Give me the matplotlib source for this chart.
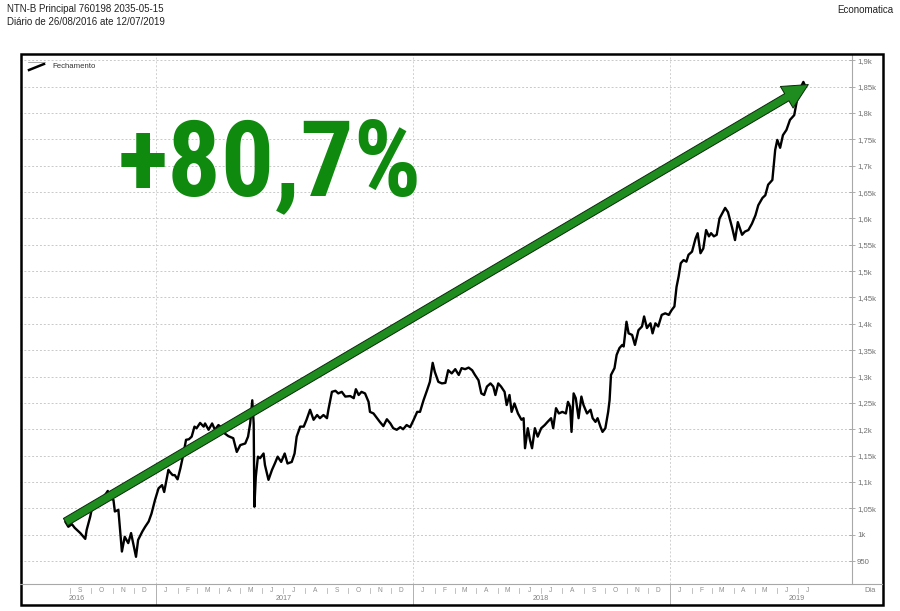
import numpy as np
import pandas as pd
import matplotlib
matplotlib.use("Agg")
import matplotlib.pyplot as plt
import matplotlib.dates as mdates
from matplotlib import font_manager
from matplotlib.transforms import blended_transform_factory
from matplotlib.patches import Rectangle
from matplotlib.lines import Line2D

# ---------------- data ----------------
title_line1 = "NTN-B Principal 760198 2035-05-15"
title_line2 = "Diário de 26/08/2016 ate 12/07/2019"
source_label = "Economatica"
series_name = "Fechamento"
headline = "+80,7%"
x_axis_label = "Dia"
start_date = "2016-08-26"
end_date = "2019-07-12"

day_offsets = [0, 4, 9, 13, 21, 28, 30, 35, 39, 44, 49, 56, 60, 63, 68, 70, 75, 80, 84, 89,
               93, 96, 100, 103, 109, 113, 118, 122, 127, 132, 137, 140, 146, 148, 152, 155,
               159, 163, 167, 171, 175, 179, 183, 186, 191, 196, 198, 203, 208, 212, 217, 222,
               226, 231, 238, 243, 248, 255, 259, 262, 265, 267, 268, 270, 273, 276, 281, 283,
               288, 293, 297, 301, 306, 311, 315, 321, 325, 328, 333, 338, 342, 347, 352, 357,
               361, 366, 371, 373, 378, 383, 387, 392, 397, 404, 409, 412, 416, 420, 425, 430,
               432, 437, 442, 446, 451, 456, 461, 465, 470, 475, 479, 484, 489, 494, 499, 503,
               508, 513, 517, 521, 524, 529, 534, 539, 543, 548, 553, 558, 562, 567, 572, 577,
               581, 586, 590, 594, 598, 603, 607, 610, 614, 618, 623, 626, 630, 633, 637, 642,
               647, 650, 652, 656, 659, 662, 666, 670, 675, 680, 684, 689, 692, 696, 700, 705,
               710, 713, 716, 718, 721, 724, 728, 732, 735, 740, 745, 748, 752, 755, 759, 762,
               766, 770, 772, 774, 779, 782, 786, 790, 792, 796, 799, 804, 808, 813, 818, 821,
               825, 830, 833, 837, 841, 846, 851, 856, 860, 864, 867, 870, 873, 877, 881, 884,
               889, 894, 897, 901, 905, 909, 913, 916, 920, 924, 928, 932, 936, 940, 946, 950,
               954, 960, 964, 969, 974, 979, 983, 989, 993, 997, 1003, 1007, 1010, 1014, 1018,
               1023, 1028, 1034, 1038, 1043, 1047, 1050]
closing = [1024, 1015, 1020, 1013, 1003, 992, 1009, 1034, 1060, 1062, 1056, 1075, 1083, 1069,
           1066, 1044, 1047, 968, 996, 984, 1003, 984, 958, 990, 1006, 1015, 1025, 1040, 1066,
           1088, 1094, 1081, 1123, 1119, 1113, 1113, 1105, 1126, 1151, 1180, 1181, 1186, 1205,
           1202, 1212, 1205, 1211, 1199, 1211, 1199, 1208, 1202, 1192, 1187, 1183, 1157, 1170,
           1173, 1186, 1211, 1255, 1211, 1053, 1110, 1148, 1145, 1154, 1132, 1104, 1123, 1135,
           1148, 1138, 1154, 1135, 1138, 1154, 1186, 1205, 1205, 1218, 1237, 1218, 1227, 1221,
           1227, 1221, 1237, 1271, 1273, 1268, 1271, 1262, 1263, 1259, 1276, 1265, 1271, 1268,
           1252, 1233, 1230, 1221, 1214, 1206, 1219, 1211, 1202, 1199, 1204, 1200, 1208, 1204,
           1218, 1233, 1233, 1255, 1274, 1290, 1326, 1309, 1290, 1287, 1288, 1312, 1306, 1314,
           1303, 1316, 1314, 1317, 1312, 1303, 1293, 1268, 1265, 1281, 1287, 1281, 1265, 1287,
           1281, 1271, 1246, 1265, 1233, 1249, 1230, 1218, 1221, 1164, 1202, 1180, 1164, 1202,
           1186, 1202, 1208, 1214, 1221, 1202, 1240, 1230, 1233, 1230, 1252, 1243, 1195, 1268,
           1259, 1221, 1262, 1246, 1230, 1237, 1221, 1214, 1221, 1205, 1195, 1202, 1233, 1255,
           1303, 1316, 1341, 1354, 1360, 1357, 1404, 1382, 1379, 1360, 1388, 1395, 1414, 1392,
           1401, 1382, 1401, 1395, 1417, 1420, 1417, 1426, 1433, 1470, 1490, 1515, 1521, 1518,
           1531, 1537, 1562, 1572, 1534, 1543, 1578, 1566, 1572, 1566, 1569, 1600, 1610, 1620,
           1612, 1582, 1559, 1593, 1569, 1575, 1578, 1590, 1606, 1625, 1639, 1644, 1664, 1673,
           1730, 1749, 1734, 1758, 1768, 1787, 1796, 1825, 1848, 1859, 1850]

y_ticks = [950, 1000, 1050, 1100, 1150, 1200, 1250, 1300, 1350, 1400, 1450, 1500, 1550,
           1600, 1650, 1700, 1750, 1800, 1850, 1900]
y_tick_labels = ["950", "1k", "1,05k", "1,1k", "1,15k", "1,2k", "1,25k", "1,3k", "1,35k",
                 "1,4k", "1,45k", "1,5k", "1,55k", "1,6k", "1,65k", "1,7k", "1,75k", "1,8k",
                 "1,85k", "1,9k"]
month_letters = ["J", "F", "M", "A", "M", "J", "J", "A", "S", "O", "N", "D"]
year_labels = ["2016", "2017", "2018", "2019"]
year_label_dates = ["2016-09-11", "2017-07-02", "2018-07-02", "2019-06-30"]

# ---------------- figure ----------------
W, H = 900, 611
fig = plt.figure(figsize=(W / 100, H / 100), dpi=100)
fig.patch.set_facecolor("white")

def fx(px):
    return px / W

def fy(py):
    return 1 - py / H

sans = ["Liberation Sans", "DejaVu Sans"]

ax_left, ax_right, ax_top, ax_bottom = 20, 852, 54, 584
ax = fig.add_axes([fx(ax_left), fy(ax_bottom), fx(ax_right - ax_left), (ax_bottom - ax_top) / H])
ax.set_facecolor("white")

t0 = pd.Timestamp(start_date)
dates = t0 + pd.to_timedelta(day_offsets, unit="D")
ax.plot(dates, closing, color="black", lw=1.7, solid_joinstyle="round", zorder=3)

ax.set_xlim(t0 - pd.Timedelta(days=64.6), t0 + pd.Timedelta(days=1116))
ax.set_ylim(906.4, 1912)

# grid
for v in y_ticks:
    ax.axhline(v, color="#c9c9c9", lw=0.7, ls=(0, (2, 2)), zorder=1)
for y in year_labels[1:]:
    ax.axvline(pd.Timestamp(f"{y}-01-01"), color="#d0d0d0", lw=0.7, ls=(0, (2, 2)), zorder=1)

for side in ["left", "top", "bottom"]:
    ax.spines[side].set_visible(False)
ax.spines["right"].set_color("#a8a8a8")
ax.spines["right"].set_linewidth(0.8)
ax.yaxis.tick_right()
ax.set_yticks(y_ticks)
ax.set_yticklabels(y_tick_labels, family=sans)
ax.tick_params(axis="y", direction="inout", length=4, width=0.6, color="#a0a0a0",
               labelsize=5.6, labelcolor="#707070", pad=1.5)
ax.set_xticks([])

# arrow from first to last point
ax.annotate("", xy=(dates[-1] + pd.Timedelta(days=4), closing[-1] + 4),
            xytext=(dates[0], closing[0]),
            arrowprops=dict(arrowstyle="simple,head_width=0.72,head_length=0.72,tail_width=0.24",
                            mutation_scale=25, fc="#1e8c1e", ec="#0a2a0a", lw=0.7,
                            shrinkA=0, shrinkB=0), zorder=4)

# headline: prefer a condensed bold face if one is installed
available = {f.name for f in font_manager.fontManager.ttflist}
narrow_candidates = ["Liberation Sans Narrow", "Roboto Condensed", "Open Sans Condensed",
                     "DejaVu Sans Condensed", "Noto Sans Condensed", "Arial Narrow"]
head_family = [f for f in narrow_candidates if f in available] + ["Liberation Sans", "DejaVu Sans"]
htxt = fig.text(fx(118), fy(195), headline, color="#0f8a0f", fontsize=80, fontweight="bold",
                family=head_family, ha="left", va="baseline")
renderer = fig.canvas.get_renderer()
bb = htxt.get_window_extent(renderer)
target_w = 304.0
htxt.set_fontsize(80 * target_w / bb.width)

# legend
fig.add_artist(Line2D([fx(29), fx(44)], [fy(70), fy(64)], color="black", lw=1.8))
fig.add_artist(Line2D([fx(28), fx(45)], [fy(62), fy(62)], color="#888888", lw=0.5))
fig.text(fx(52), fy(66), series_name, fontsize=5.6, color="#333333", family=sans,
         ha="left", va="center")

# titles
fig.text(fx(7), fy(9), title_line1, fontsize=7, color="#222222", family=sans, ha="left", va="center")
fig.text(fx(7), fy(22), title_line2, fontsize=7, color="#222222", family=sans, ha="left", va="center")
fig.text(fx(893), fy(10), source_label, fontsize=7, color="#222222", family=sans, ha="right", va="center")

# bottom axis (months / years)
fig.add_artist(Line2D([fx(20), fx(882)], [fy(584), fy(584)], color="#a8a8a8", lw=0.8))
bt = blended_transform_factory(ax.transData, fig.transFigure)
months = pd.date_range("2016-09-01", "2019-07-01", freq="MS")
for m in months:
    mid = m + pd.Timedelta(days=14)
    ax.text(mdates.date2num(mid), fy(590), month_letters[m.month - 1], transform=bt,
            fontsize=4.8, color="#909090", family=sans, ha="center", va="center", clip_on=False)
    if m.month == 1:
        ax.add_artist(Line2D([mdates.date2num(m)] * 2, [fy(584), fy(604)], transform=bt,
                             color="#b0b0b0", lw=0.7, clip_on=False))
    else:
        ax.add_artist(Line2D([mdates.date2num(m)] * 2, [fy(587.5), fy(592.5)], transform=bt,
                             color="#b8b8b8", lw=0.6, clip_on=False))
for lab, d in zip(year_labels, year_label_dates):
    ax.text(mdates.date2num(pd.Timestamp(d)), fy(598.5), lab, transform=bt, fontsize=5.2,
            color="#808080", family=sans, ha="center", va="center", clip_on=False)
fig.text(fx(870), fy(591), x_axis_label, fontsize=5.4, color="#808080", family=sans,
         ha="center", va="center")

# outer frame
fig.add_artist(Rectangle((fx(21), fy(605)), fx(862), (605 - 54) / H, transform=fig.transFigure,
                         fill=False, ec="black", lw=1.8))

fig.savefig("out.png", dpi=100, facecolor="white")
